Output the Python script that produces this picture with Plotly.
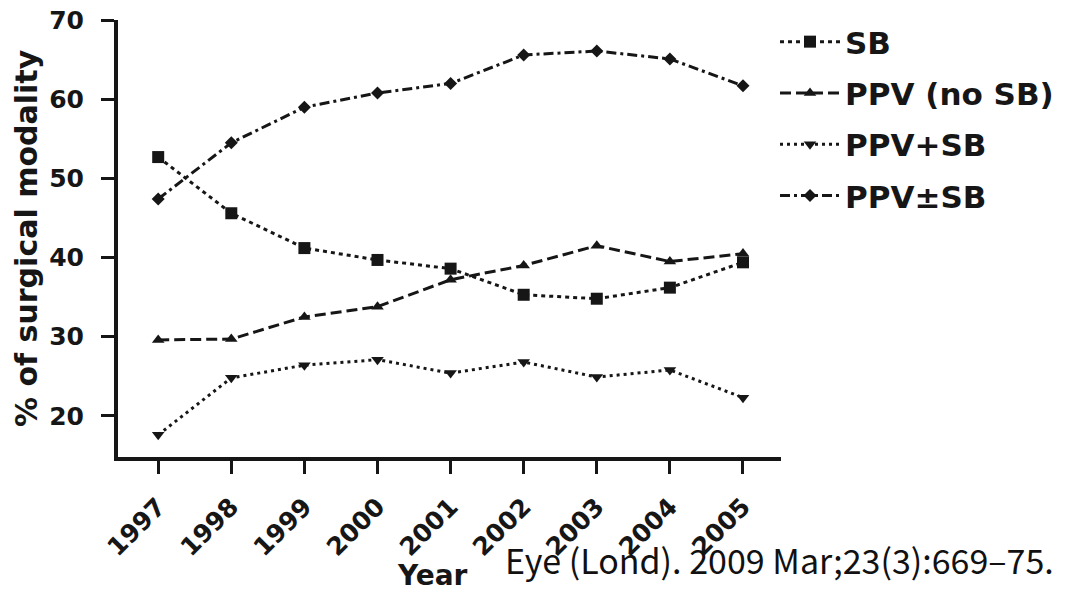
import plotly.graph_objects as go

years = [1997, 1998, 1999, 2000, 2001, 2002, 2003, 2004, 2005]
year_labels = [str(y) for y in years]
y_ticks = [20, 30, 40, 50, 60, 70]
sb = [52.7, 45.6, 41.2, 39.7, 38.6, 35.3, 34.8, 36.2, 39.4]
ppv_no_sb = [29.6, 29.7, 32.5, 33.8, 37.2, 39.0, 41.5, 39.5, 40.5]
ppv_plus_sb = [17.6, 24.8, 26.4, 27.1, 25.4, 26.8, 24.9, 25.8, 22.3]
ppv_pm_sb = [47.4, 54.5, 59.0, 60.8, 62.0, 65.6, 66.1, 65.1, 61.7]

series_names = ["SB", "PPV (no SB)", "PPV+SB", "PPV\u00b1SB"]
series_vals = [sb, ppv_no_sb, ppv_plus_sb, ppv_pm_sb]
dashes = ["4px,4px", "11px,5px", "3px,4px", "10px,4px,3px,4px"]
symbols = ["square", "triangle-up", "triangle-down", "diamond"]
msizes = [12, 11, 11, 10]

INK = "#161616"
FONT = "DejaVu Sans, Liberation Sans, sans-serif"

fig = go.Figure()
for i, (name, vals) in enumerate(zip(series_names, series_vals)):
    fig.add_trace(go.Scatter(
        x=years, y=vals, name=name, mode="lines+markers",
        legendgroup=name,
        line=dict(color=INK, width=3, dash=dashes[i]),
        marker=dict(symbol=symbols[i], size=msizes[i], color=INK, line=dict(width=0)),
    ))

# page offset of 8px: figure pixel = reference pixel - 8
W, H = 1060, 585
L, T = 110, 12
R, B = W - 773, H - 449
pw, ph = W - L - R, H - T - B


def fx(ref_x):
    return (ref_x - 8 - L) / pw


def fy(ref_y):
    return (H - B - (ref_y - 8)) / ph


fig.add_shape(type="rect", xref="paper", yref="paper",
              x0=fx(1064), x1=fx(1070), y0=fy(600), y1=fy(0),
              fillcolor="#1a1f0a", line=dict(width=0), layer="below")

tick_font = dict(family=FONT, size=25, color=INK, weight="bold")

fig.update_layout(
    template="none",
    width=W, height=H,
    margin=dict(l=L, r=R, t=T, b=B, pad=0, autoexpand=False),
    paper_bgcolor="white",
    plot_bgcolor="white",
    showlegend=True,
    legend=dict(
        x=fx(775), y=fy(15), xanchor="left", yanchor="top",
        font=dict(family=FONT, size=31, color=INK, weight="bold"),
        bgcolor="rgba(0,0,0,0)", itemwidth=60, tracegroupgap=8,
    ),
    xaxis=dict(
        range=[1996.45, 2005.52], tickmode="array", tickvals=years, ticktext=year_labels,
        tickangle=-45, tickfont=tick_font, ticks="outside", ticklen=13, tickwidth=3,
        ticklabelstandoff=8, ticklabeloverflow="allow",
        tickcolor=INK, showline=True, linecolor=INK, linewidth=4,
        showgrid=False, zeroline=False, automargin=False,
    ),
    yaxis=dict(
        range=[14.8, 70.02], tickmode="array", tickvals=y_ticks,
        tickfont=tick_font, ticks="outside", ticklen=13, tickwidth=3, tickcolor=INK,
        ticklabelstandoff=12, ticklabeloverflow="allow",
        showline=True, linecolor=INK, linewidth=4, showgrid=False, zeroline=False,
        automargin=False,
    ),
    annotations=[
        dict(text="% of surgical modality", xref="paper", yref="paper",
             x=fx(27), y=fy(238), xanchor="center", yanchor="middle", textangle=-90,
             showarrow=False, font=dict(family=FONT, size=30, color=INK, weight="bold")),
        dict(text="Year", xref="paper", yref="paper",
             x=fx(432), y=fy(575), xanchor="center", yanchor="middle",
             showarrow=False, font=dict(family=FONT, size=28, color=INK, weight="bold")),
        dict(text="Eye (Lond). 2009 Mar;23(3):669\u201375.", xref="paper", yref="paper",
             x=fx(1056), y=fy(559), xanchor="right", yanchor="middle", showarrow=False,
             font=dict(family="Noto Sans CJK KR, DejaVu Sans, sans-serif", size=34, color="#111111")),
    ],
)

fig.write_html("out.html")
